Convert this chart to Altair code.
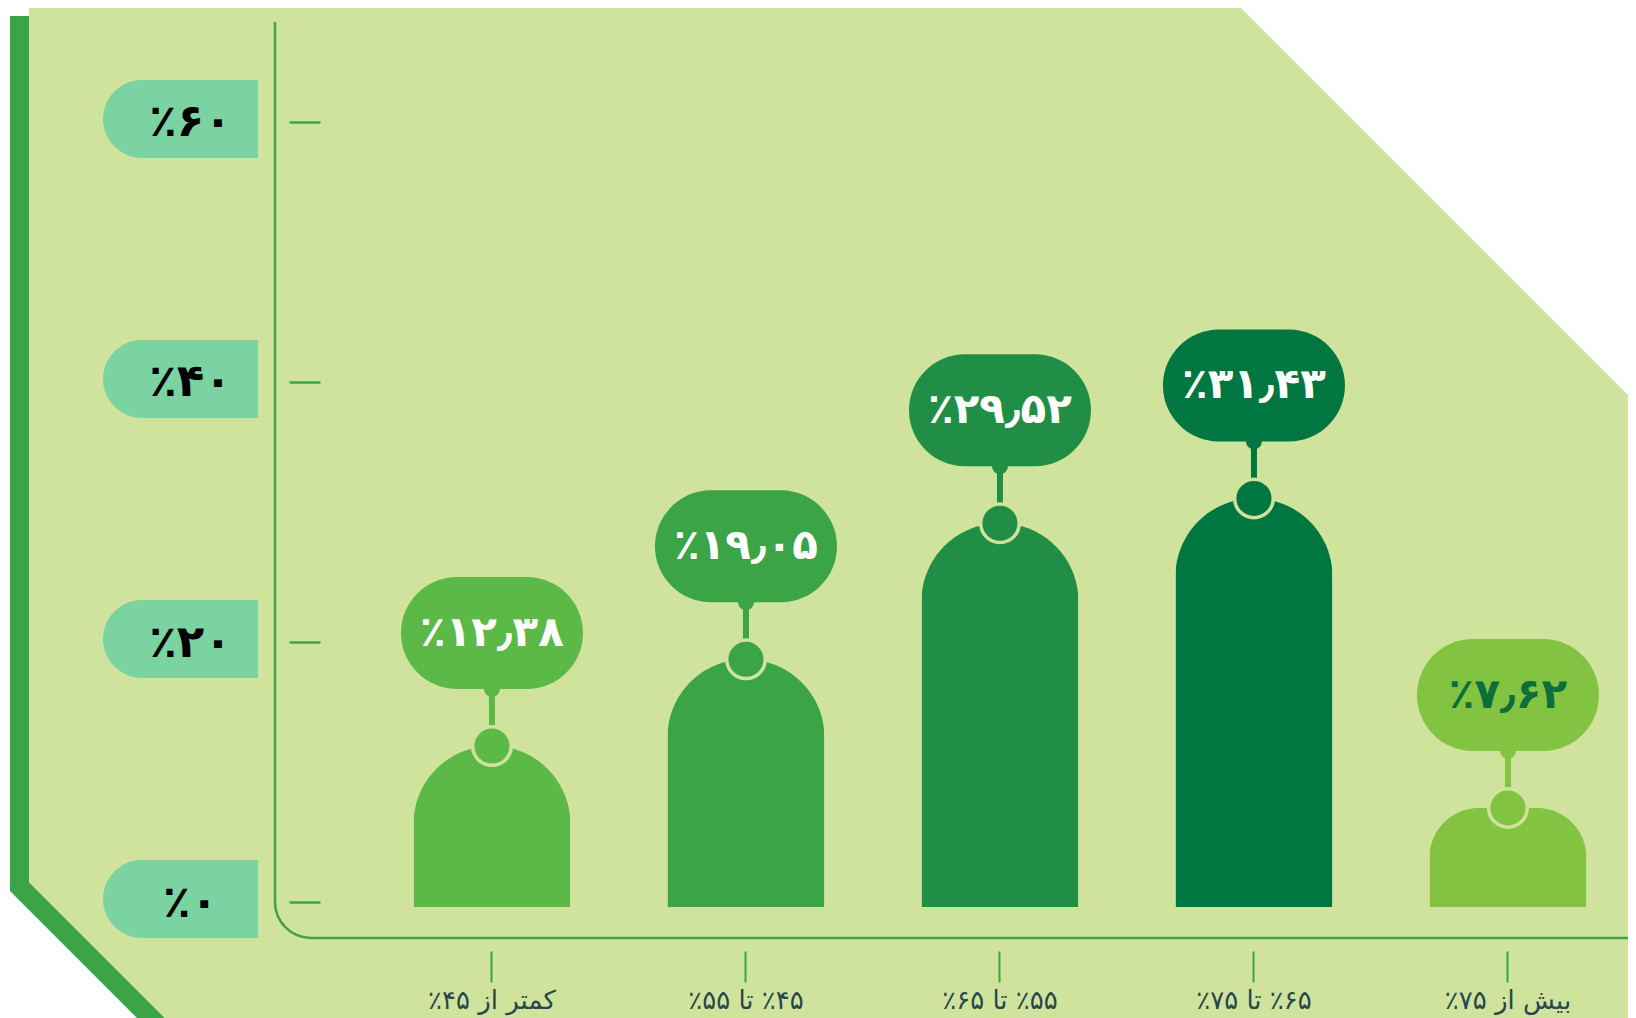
import altair as alt
import pandas as pd

# ---------------- data ----------------
categories = ["کمتر از ۴۵٪", "۴۵٪ تا ۵۵٪", "۵۵٪ تا ۶۵٪", "۶۵٪ تا ۷۵٪", "بیش از ۷۵٪"]
values = [12.38, 19.05, 29.52, 31.43, 7.62]
y_ticks = [0, 20, 40, 60]

# ---------------- styles ----------------
bar_colors = ["#5cb948", "#3ba446", "#218e46", "#007640", "#82c341"]
PANEL = "#d0e39c"
GREEN = "#3ba446"
MINT = "#7ad3a0"
LABEL_DARK = "#0d6e3b"
XLABEL = "#27474f"
FONT = "DejaVu Sans"

FA = str.maketrans("0123456789.", "۰۱۲۳۴۵۶۷۸۹٫")


def fa_pct(v, fmt):
    return "٪" + format(v, fmt).translate(FA)


value_labels = [fa_pct(v, ".2f") for v in values]
y_tick_labels = [fa_pct(t, "d") for t in y_ticks]

df = pd.DataFrame({"cat": categories, "value": values, "label": value_labels})
ticks_df = pd.DataFrame({"value": y_ticks})
deco = pd.DataFrame({"k": [0]})

# ---------------- scales / axes ----------------
x_scale = alt.Scale(domain=categories, paddingInner=0.1, paddingOuter=0.2134, align=0.947)
y_scale = alt.Scale(domain=[-2.3846, 68.0769], zero=False, nice=False)
color_scale = alt.Scale(domain=categories, range=bar_colors)

x_axis = alt.Axis(
    title=None, orient="bottom", offset=13, domain=False, grid=False,
    tickSize=31, tickWidth=2, tickColor=GREEN, labelAngle=0,
    labelFont=FONT, labelFontSize=26, labelColor=XLABEL, labelPadding=5,
    labelLimit=400, labelExpr="'\u202b\u061c' + datum.label + '\u202c'", zindex=1,
)

y_label_expr = " : ".join(
    f"datum.value == {t} ? '{lab}'" for t, lab in zip(y_ticks, y_tick_labels)
) + " : ''"

y_axis = alt.Axis(
    title=None, values=y_ticks, offset=-45, domain=False, grid=False,
    tickSize=31, tickWidth=2.5, tickColor=GREEN, tickOffset=-5,
    labelExpr=y_label_expr, labelAlign="center", labelBaseline="middle",
    labelPadding=99, labelFont=FONT, labelFontSize=45, labelFontWeight="bold",
    labelColor="black", zindex=1,
)

X = alt.X("cat:N", scale=x_scale, axis=x_axis)
Y = alt.Y("value:Q", scale=y_scale, axis=y_axis)
C = alt.Color("cat:N", scale=color_scale, legend=None)

# ---------------- decoration (panel, strip, axis frame) ----------------
STRIP_PATH = "M -265 -6 L -246 -6 L -246 860 L -98 1008 L -126 1008 L -265 869 Z"
PANEL_PATH = "M -246 -15 L 965 -15 L 1353 373 L 1353 1008 L -98 1008 L -246 860 Z"
FRAME_PATH = "M 0 0 L 0 880 A 36 36 0 0 0 36 916 L 1353 916"

strip = alt.Chart(deco).mark_point(
    shape=STRIP_PATH, size=4, filled=True, color=GREEN, opacity=1, strokeWidth=0
).encode(x=alt.value(0), y=alt.value(0))

panel = alt.Chart(deco).mark_point(
    shape=PANEL_PATH, size=4, filled=True, color=PANEL, opacity=1, strokeWidth=0
).encode(x=alt.value(0), y=alt.value(0))

frame = alt.Chart(deco).mark_point(
    shape=FRAME_PATH, size=4, filled=False, color=GREEN, opacity=1, strokeWidth=2.5
).encode(x=alt.value(0), y=alt.value(0))

# pills behind y tick labels
pills = alt.Chart(ticks_df).mark_rect(
    color=MINT, cornerRadiusTopLeft=39, cornerRadiusBottomLeft=39,
    yOffset=-47, y2Offset=31,
).encode(
    y=alt.Y("value:Q", scale=y_scale),
    y2="value:Q",
    x=alt.value(-172),
    x2=alt.value(-17),
)

# ---------------- data marks ----------------
bars = alt.Chart(df).mark_bar(
    width=157, cornerRadiusTopLeft=78, cornerRadiusTopRight=78
).encode(x=X, y=Y, color=C)

connector = alt.Chart(df).mark_rule(strokeWidth=6, y2Offset=-57).encode(
    x=alt.X("cat:N", scale=x_scale), y=alt.Y("value:Q", scale=y_scale), y2="value:Q", color=C
)

knob = alt.Chart(df).mark_circle(size=1486, opacity=1, stroke=PANEL, strokeWidth=3.5).encode(
    x=alt.X("cat:N", scale=x_scale), y=alt.Y("value:Q", scale=y_scale), color=C
)

bubble = alt.Chart(df).mark_bar(
    width=182, cornerRadius=56, yOffset=-169, y2Offset=-57
).encode(
    x=alt.X("cat:N", scale=x_scale), y=alt.Y("value:Q", scale=y_scale), y2="value:Q", color=C
)

small = alt.Chart(df).mark_circle(size=254, opacity=1, yOffset=-57).encode(
    x=alt.X("cat:N", scale=x_scale), y=alt.Y("value:Q", scale=y_scale), color=C
)

text = alt.Chart(df).mark_text(
    font=FONT, fontSize=42, fontWeight="bold", align="center", baseline="middle", yOffset=-113
).encode(
    x=alt.X("cat:N", scale=x_scale),
    y=alt.Y("value:Q", scale=y_scale),
    text="label:N",
    color=alt.condition(alt.datum.cat == categories[4], alt.value(LABEL_DARK), alt.value("white")),
)

chart = alt.layer(
    strip, panel, frame, pills, bars, connector, knob, bubble, small, text
).properties(
    width=1353,
    height=916,
    padding={"left": 267, "top": 14, "right": 0, "bottom": 80},
    autosize=alt.AutoSizeParams(type="none"),
    background="white",
).configure_view(stroke=None)

chart.save("out.html", embed_options={"renderer": "svg", "actions": False})
